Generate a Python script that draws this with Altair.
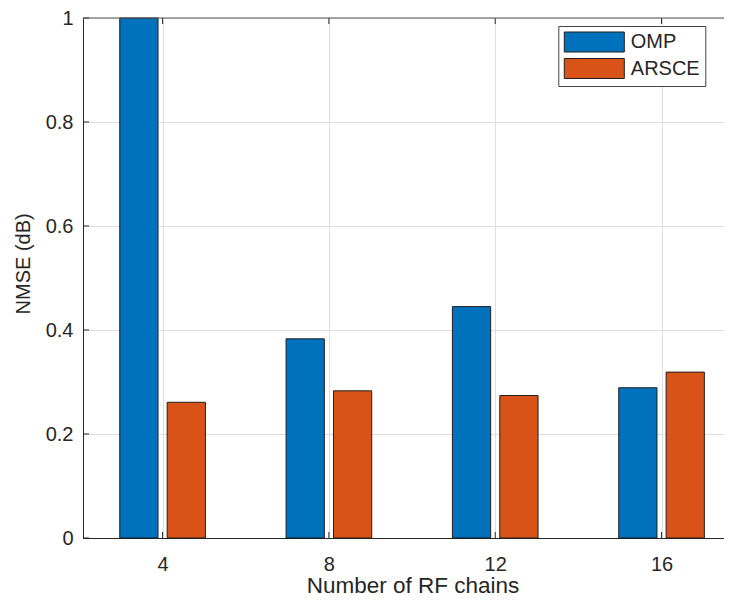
import altair as alt
import pandas as pd

# ---- data ----
chains = [4, 8, 12, 16]
series_names = ["OMP", "ARSCE"]
omp_nmse = [1.0, 0.383, 0.445, 0.289]
arsce_nmse = [0.261, 0.283, 0.274, 0.319]
y_ticks = [0, 0.2, 0.4, 0.6, 0.8, 1]

rows = []
for c, o, a in zip(chains, omp_nmse, arsce_nmse):
    rows.append({"chains": c, "series": "OMP", "nmse": o})
    rows.append({"chains": c, "series": "ARSCE", "nmse": a})
df = pd.DataFrame(rows)

# ---- style ----
FONT = "Liberation Sans"
TXT = "#262626"
AX = "#262626"
GRID = "#dedede"
COLORS = ["#0072BD", "#D95319"]
BAR_W = 0.92
OFF_OMP = -1.03
OFF_ARS = 0.11
TICK_LEN = 6

W, H = 641, 520
X_DOMAIN = [2.086, 17.502]
x_scale = alt.Scale(domain=X_DOMAIN, nice=False, zero=False)
y_scale = alt.Scale(domain=[0, 1], nice=False)

x_axis = alt.Axis(
    values=chains,
    title="Number of RF chains",
    grid=True,
    gridColor=GRID,
    gridWidth=1,
    ticks=False,
    labelPadding=16,
    labelFontSize=20,
    labelFont=FONT,
    labelColor=TXT,
    labelFlush=False,
    titleFont=FONT,
    titleFontSize=22.5,
    titleFontWeight="normal",
    titleColor=TXT,
    titleX=329.5,
    titleY=54,
    titleBaseline="alphabetic",
    titleAlign="center",
    domainColor=AX,
)
y_axis = alt.Axis(
    values=y_ticks,
    format=".1~f",
    title="NMSE (dB)",
    grid=True,
    gridColor=GRID,
    gridWidth=1,
    ticks=False,
    labelPadding=10,
    labelFontSize=20,
    labelFont=FONT,
    labelColor=TXT,
    labelFlush=False,
    titleFont=FONT,
    titleFontSize=20,
    titleFontWeight="normal",
    titleColor=TXT,
    titleAngle=270,
    titleX=-54,
    titleY=245.4,
    titleBaseline="alphabetic",
    titleAlign="center",
    domainColor=AX,
)

bars = (
    alt.Chart(df)
    .transform_calculate(
        x0=f"datum.chains + (datum.series == 'OMP' ? {OFF_OMP} : {OFF_ARS})"
    )
    .transform_calculate(x1=f"datum.x0 + {BAR_W}")
    .mark_bar(stroke="#1f1f1f", strokeWidth=1, opacity=1)
    .encode(
        x=alt.X("x0:Q", scale=x_scale, axis=x_axis),
        x2="x1:Q",
        y=alt.Y("nmse:Q", scale=y_scale, axis=y_axis),
        y2=alt.datum(0),
        color=alt.Color(
            "series:N",
            scale=alt.Scale(domain=series_names, range=COLORS),
            sort=series_names,
            legend=alt.Legend(
                orient="none",
                legendX=475.3,
                legendY=8,
                title=None,
                symbolType="M-3,-1H3V1H-3Z",
                symbolSize=400,
                symbolStrokeColor="#1f1f1f",
                symbolStrokeWidth=1,
                symbolOpacity=1,
                symbolOffset=20,
                labelOffset=26,
                labelFont=FONT,
                labelFontSize=20,
                labelColor=TXT,
                strokeColor="#444444",
                fillColor="white",
                padding=5.5,
                rowPadding=1.5,
            ),
        ),
    )
)

# inward (MATLAB-style) tick marks
tick_x_df = pd.DataFrame({"chains": chains})
tick_y_df = pd.DataFrame({"yv": y_ticks})

x_ticks_bottom = (
    alt.Chart(tick_x_df)
    .mark_rule(color=AX, strokeWidth=1)
    .encode(
        x=alt.X("chains:Q", scale=x_scale, axis=x_axis),
        y=alt.value(H),
        y2=alt.value(H - TICK_LEN),
    )
)
x_ticks_top = (
    alt.Chart(tick_x_df)
    .mark_rule(color=AX, strokeWidth=1)
    .encode(
        x=alt.X("chains:Q", scale=x_scale, axis=x_axis),
        y=alt.value(0),
        y2=alt.value(TICK_LEN),
    )
)
y_ticks_left = (
    alt.Chart(tick_y_df)
    .mark_rule(color=AX, strokeWidth=1)
    .encode(
        y=alt.Y("yv:Q", scale=y_scale, axis=y_axis),
        x=alt.value(0),
        x2=alt.value(TICK_LEN),
    )
)

top_frame = (
    alt.Chart(pd.DataFrame({"frame": [0]}))
    .mark_rule(color="#555555", strokeWidth=1)
    .encode(x=alt.value(0), x2=alt.value(W), y=alt.value(0))
)

chart = (
    alt.layer(bars, x_ticks_bottom, x_ticks_top, y_ticks_left, top_frame)
    .properties(
        width=W,
        height=H,
        autosize=alt.AutoSizeParams(type="none"),
        padding={"left": 75, "top": 10, "right": 0, "bottom": 60},
    )
    .configure_view(stroke=None)
    .configure(background="white")
)

chart.save("out.html", embed_options={"renderer": "svg", "actions": False})
